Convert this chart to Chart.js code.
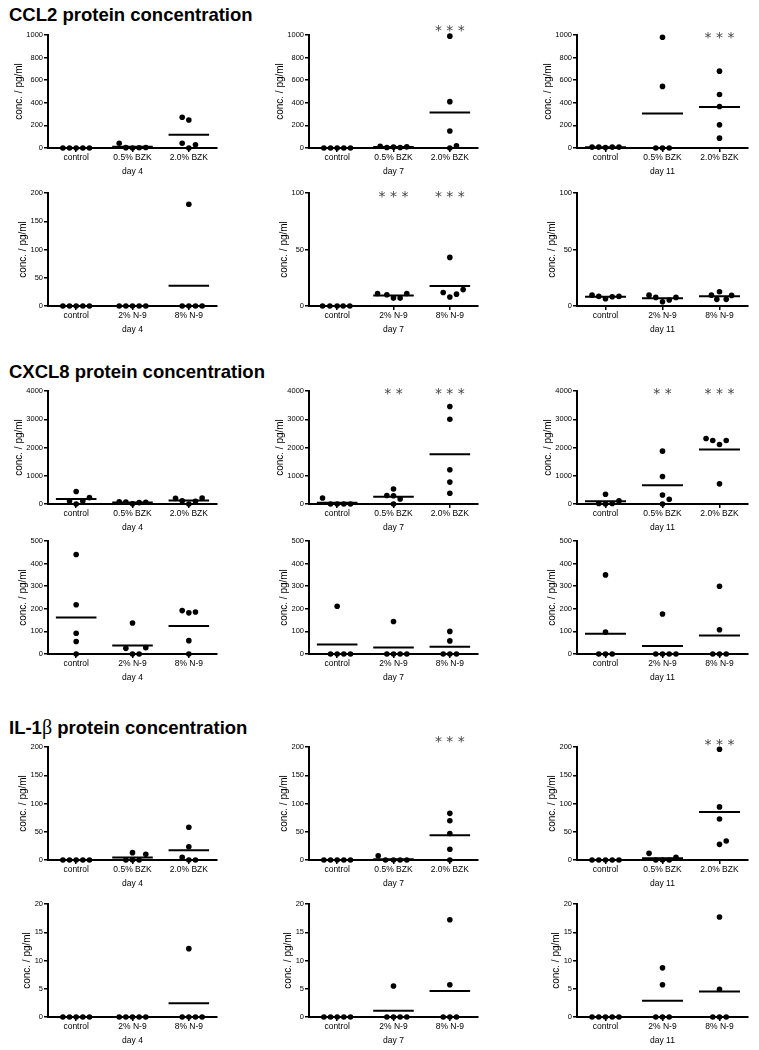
<!DOCTYPE html>
<html><head><meta charset="utf-8">
<script src="https://cdn.jsdelivr.net/npm/chart.js@4.4.0/dist/chart.umd.min.js"></script>
<style>
body{margin:0;background:#fff;width:759px;height:1050px;position:relative;overflow:hidden;font-family:Arial,"Liberation Sans",sans-serif}
.sec{position:absolute;left:9px;font-weight:bold;font-size:18.5px;line-height:18.5px;color:#000;white-space:nowrap}
.beta{font-family:"Liberation Serif","DejaVu Serif",serif;font-weight:normal;font-size:20px}
canvas{position:absolute}
</style></head><body>
<div class="sec" style="top:6px">CCL2 protein concentration</div>
<div class="sec" style="top:363px">CXCL8 protein concentration</div>
<div class="sec" style="top:718px">IL-1<span class="beta">β</span> protein concentration</div>
<script>
// ---------- categories and labels ----------
const catBZK = ['control', '0.5% BZK', '2.0% BZK'];
const catN9 = ['control', '2% N-9', '8% N-9'];
const days = ['day 4', 'day 7', 'day 11'];
const yTitle = 'conc. / pg/ml';

// ---------- y-axis ranges per row ----------
const yMax = [[1000, 1000, 1000], [200, 100, 100], [4000, 4000, 4000], [500, 500, 500], [200, 200, 200], [20, 20, 20]];
const yStep = [[200, 200, 200], [50, 50, 50], [1000, 1000, 1000], [100, 100, 100], [50, 50, 50], [5, 5, 5]];

// ---------- values (pg/ml), one array per group ----------
// CCL2, BZK
const ccl2_bzk_d4 = [[0, 0, 0, 0, 0], [42, 3, 0, 2, 4], [272, 248, 42, 0, 28]];
const ccl2_bzk_d7 = [[0, 0, 0, 0, 0], [15, 5, 8, 5, 10], [990, 410, 150, 0, 20]];
const ccl2_bzk_d11 = [[8, 8, 5, 8, 8], [980, 545, 0, 0, 0], [680, 473, 367, 205, 87]];
// CCL2, N-9
const ccl2_n9_d4 = [[0, 0, 0, 0, 0], [0, 0, 0, 0, 0], [180, 0, 0, 0, 0]];
const ccl2_n9_d7 = [[0, 0, 0, 0, 0], [11, 10, 7, 7, 11], [43, 12, 8, 10.5, 14.5]];
const ccl2_n9_d11 = [[9.6, 8.5, 6.4, 8.2, 8.5], [9.6, 7.6, 3.8, 5.3, 7.6], [9.6, 12.6, 9.4, 5.9, 5.9]];
// CXCL8, BZK
const cxcl8_bzk_d4 = [[440, 107, 0, 107, 226], [80, 70, 5, 50, 60], [200, 110, 0, 100, 210]];
const cxcl8_bzk_d7 = [[210, 0, 0, 0, 0], [530, 300, 290, 180, 0], [3450, 3000, 1210, 775, 380]];
const cxcl8_bzk_d11 = [[345, 20, 0, 20, 110], [1870, 976, 320, 167, 0], [2320, 2250, 2107, 2250, 714]];
// CXCL8, N-9
const cxcl8_n9_d4 = [[440, 218, 92, 55, 0], [137, 25, 0, 0, 28], [192, 182, 186, 59, 0]];
const cxcl8_n9_d7 = [[211, 0, 0, 0, 0], [144, 0, 0, 0, 0], [100, 58, 0, 0, 0]];
const cxcl8_n9_d11 = [[350, 97, 0, 0, 0], [177, 0, 0, 0, 0], [300, 107, 0, 0, 0]];
// IL-1beta, BZK
const il1b_bzk_d4 = [[0, 0, 0, 0, 0], [13, 10, 0, 0, 0], [58, 23.5, 4.7, 0, 0]];
const il1b_bzk_d7 = [[0, 0, 0, 0, 0], [7.6, 0, 0, 0, 0], [82.6, 69.6, 47, 19, 0]];
const il1b_bzk_d11 = [[0, 0, 0, 0, 0], [11.8, 0, 0, 0, 4.7], [196, 94, 72.6, 27.7, 33.6]];
// IL-1beta, N-9
const il1b_n9_d4 = [[0, 0, 0, 0, 0], [0, 0, 0, 0, 0], [12.1, 0, 0, 0, 0]];
const il1b_n9_d7 = [[0, 0, 0, 0, 0], [5.5, 0, 0, 0, 0], [17.2, 5.7, 0, 0, 0]];
const il1b_n9_d11 = [[0, 0, 0, 0, 0], [8.7, 5.7, 0, 0, 0], [17.7, 4.9, 0, 0, 0]];

// ---------- significance marks per group ----------
const sig = [
  [['', '', ''], ['', '', '***'], ['', '', '***']],
  [['', '', ''], ['', '***', '***'], ['', '', '']],
  [['', '', ''], ['', '**', '***'], ['', '**', '***']],
  [['', '', ''], ['', '', ''], ['', '', '']],
  [['', '', ''], ['', '', '***'], ['', '', '***']],
  [['', '', ''], ['', '', ''], ['', '', '']]
];

// ---------- layout (horizontal spread of overlapping dots, in dot slots) ----------
const S5 = [-2, -1, 0, 1, 2];
const jitter = [
  [[S5, S5, [-1, 0, -1, 0, 1]], [S5, S5, [0, 0, 0, 0, 1]], [S5, [0, 0, -1, 0, 1], [0, 0, 0, 0, 0]]],
  [[S5, S5, [0, -1, 0, 1, 2]], [[-2.2, -1.1, 0, 0.9, 1.9], [-2.4, -1, 0, 1, 2], [0, -1, 0, 1, 2]], [S5, S5, [-1.2, 0, 1.8, -0.4, 1]]],
  [[[0, -1, 0, 1, 2], S5, S5], [[-2.2, -1, 0, 1, 2], [0, -1, 0, 1, 0], [0, 0, 0, 0, 0]], [[0, -1, 0, 1, 2], [0, 0, 0, 1, 0], [-2, -1, 0, 1, 0]]],
  [[[0, 0, 0, 0, 0], [0, -1, 0, 1, 2], [-1, 0, 1, 0, 0]], [[0, -1, 0, 1, 2], [0, -1, 0, 1, 2], [0, 0, -1, 0, 1]], [[0, 0, -1, 0, 1], [0, -1, 0, 1, 2], [0, 0, -1, 0, 1]]],
  [[S5, [0, 2, -1, 0, 1], [0, 0, -1, 0, 1]], [S5, [-2.3, -1.2, 0, 1, 2], [0, 0, 0, 0, 0]], [S5, S5, [0, 0, 0, 0, 1]]],
  [[S5, S5, [0, -1, 0, 1, 2]], [S5, [0, -1, 0, 1, 2], [0, 0, -1, 0, 1]], [S5, [0, 0, -1, 0, 1], [0, 0, -1, 0, 1]]]
];
const sigDy = [[0, -7, 0], [0, 1, 1], [0, 0, 0], [0, 0, 0], [0, -8, -5], [0, 0, 0]];

const rows = [
  {cats: catBZK, data: [ccl2_bzk_d4, ccl2_bzk_d7, ccl2_bzk_d11]},
  {cats: catN9, data: [ccl2_n9_d4, ccl2_n9_d7, ccl2_n9_d11]},
  {cats: catBZK, data: [cxcl8_bzk_d4, cxcl8_bzk_d7, cxcl8_bzk_d11]},
  {cats: catN9, data: [cxcl8_n9_d4, cxcl8_n9_d7, cxcl8_n9_d11]},
  {cats: catBZK, data: [il1b_bzk_d4, il1b_bzk_d7, il1b_bzk_d11]},
  {cats: catN9, data: [il1b_n9_d4, il1b_n9_d7, il1b_n9_d11]}
];

const rowTop = [35, 193, 391, 541, 747, 904];
const plotH = 113;
const canvasLeft = [0, 261, 529];
const plotLeft = [48, 309, 577];
const plotRight = [217, 478, 748];
const CW = 250, CH = 178, PADT = 25;
const SLOT = 0.118; // category units per dot slot
const FONT = 'Arial, "Liberation Sans", sans-serif';

function makePanel(r, c) {
  const groups = rows[r].data[c];
  const cats = rows[r].cats;
  const cv = document.createElement('canvas');
  cv.width = CW; cv.height = CH;
  cv.style.left = canvasLeft[c] + 'px';
  cv.style.top = (rowTop[r] - PADT) + 'px';
  cv.style.width = CW + 'px'; cv.style.height = CH + 'px';
  document.body.appendChild(cv);

  const pts = [];
  groups.forEach((g, i) => g.forEach((v, k) => pts.push({x: i + jitter[r][c][i][k] * SLOT, y: v})));

  const panelPlugin = {
    id: 'panelMarks',
    beforeDatasetsDraw(chart) {
      const {ctx, scales: {x, y}} = chart;
      const hw = (x.getPixelForValue(1) - x.getPixelForValue(0)) * 0.36;
      ctx.save();
      ctx.strokeStyle = '#000'; ctx.lineWidth = 2;
      groups.forEach((g, i) => {
        const m = g.reduce((a, b) => a + b, 0) / g.length;
        const px = x.getPixelForValue(i), py = y.getPixelForValue(m);
        ctx.beginPath(); ctx.moveTo(px - hw, py); ctx.lineTo(px + hw, py); ctx.stroke();
      });
      ctx.restore();
    },
    afterDraw(chart) {
      const {ctx, scales: {x}} = chart;
      ctx.save();
      ctx.fillStyle = '#444';
      ctx.font = '14px "DejaVu Sans", sans-serif';
      ctx.textAlign = 'center'; ctx.textBaseline = 'alphabetic';
      sig[r][c].forEach((s, i) => {
        if (!s) return;
        const txt = s.split('').join(' ');
        ctx.fillText(txt, x.getPixelForValue(i), chart.chartArea.top + sigDy[r][c] + 7);
      });
      ctx.restore();
    }
  };

  const padding = {top: PADT, left: 0, right: CW - (plotRight[c] - canvasLeft[c]), bottom: 10};
  const cfg = {
    type: 'scatter',
    data: {datasets: [{data: pts, backgroundColor: '#000', borderWidth: 0, pointRadius: 2.8, pointHoverRadius: 2.8, clip: false}]},
    options: {
      responsive: false, animation: false, devicePixelRatio: 1,
      layout: {padding: padding},
      plugins: {legend: {display: false}, tooltip: {enabled: false}},
      scales: {
        x: {
          type: 'linear', min: -0.5, max: 2.5,
          afterBuildTicks: ax => { ax.ticks = [0, 1, 2].map(v => ({value: v})); },
          ticks: {callback: (v, i) => cats[i], font: {size: 8.5, family: FONT}, color: '#000', padding: 1, maxRotation: 0, autoSkip: false},
          grid: {drawOnChartArea: false, drawTicks: true, tickLength: 4, color: '#000', lineWidth: 1.5},
          border: {display: true, color: '#000', width: 2},
          title: {display: true, text: days[c], font: {size: 8.5, family: FONT}, color: '#000', padding: {top: 2, bottom: 0}}
        },
        y: {
          min: 0, max: yMax[r][c],
          ticks: {stepSize: yStep[r][c], callback: v => String(v), font: {size: 7.5, family: FONT}, color: '#000', padding: 1},
          grid: {drawOnChartArea: false, drawTicks: true, tickLength: 4, color: '#000', lineWidth: 1.5},
          border: {display: true, color: '#000', width: 2},
          title: {display: true, text: yTitle, font: {size: 10, family: FONT}, color: '#000', padding: {top: 0, bottom: 0}}
        }
      }
    },
    plugins: [panelPlugin]
  };
  const ch = new Chart(cv, cfg);
  const TL = plotLeft[c] - canvasLeft[c], TB = PADT + plotH;
  for (let k = 0; k < 3; k++) {
    const ca = ch.chartArea;
    const p = ch.config.options.layout.padding;
    p.left = Math.max(0, p.left + (TL - ca.left));
    p.bottom = Math.max(0, p.bottom + (ca.bottom - TB));
    ch.update('none');
  }
}

for (let r = 0; r < 6; r++) for (let c = 0; c < 3; c++) makePanel(r, c);
</script>
</body></html>
